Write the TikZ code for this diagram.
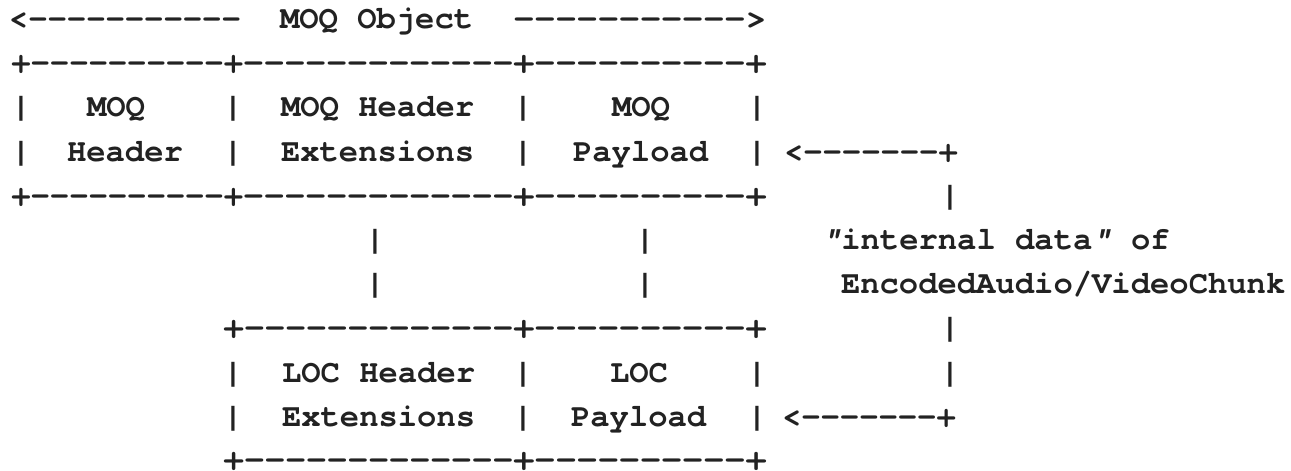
\documentclass[tikz,border=0pt]{standalone}
\usepackage{fontspec}
\setmonofont{TeX Gyre Cursor}
\definecolor{ink}{HTML}{222222}
% monospaced bold text used for the whole drawing
\newcommand\asciitext{\ttfamily\bfseries\fontsize{32.2}{36}\selectfont}
% horizontal stretch of a run of characters
\newcommand\stretchx[2]{\scalebox{#1}[1]{#2}}
% slanted double quote
\newcommand\slq{{\itshape"}}
\begin{document}
\begin{tikzpicture}[x=1pt,y=-1pt,
  tok/.style={anchor=base west,inner sep=0pt,outer sep=0pt,text=ink,font=\asciitext},
  bar/.style={anchor=base,inner sep=0pt,outer sep=0pt,text=ink,font=\asciitext}]
\fill[white] (0,0) rectangle (1291,471);
\useasboundingbox (0,0) rectangle (1291,471);

% --- span label of the whole object
\node[tok] (objL) at (9,28.5) {<-----------};
\node[tok] (objT) at (280,28.5) {MOQ Object};
\node[tok] (objR) at (513.3,28.5) {\stretchx{1.093}{----------->}};

% --- MOQ object box: top border
\node[tok] (mtA) at (11.3,72.7) {+----------+};
\node[tok] (mtB) at (243.1,72.7) {\stretchx{1.076}{-------------}};
\node[tok] (mtC) at (513.3,72.7) {\stretchx{1.093}{+----------+}};

% --- MOQ object box: first text row
\node[bar] (m2a) at (21,116.9) {|};
\node[bar] (m2b) at (233,116.9) {|};
\node[bar] (m2c) at (523,116.9) {|};
\node[bar] (m2d) at (757,116.9) {|};
\node[tok] (hdrA) at (87,116.9) {MOQ};
\node[tok] (extA) at (281,116.9) {MOQ Header};
\node[tok] (payA) at (612,116.9) {MOQ};

% --- MOQ object box: second text row
\node[bar] (m3a) at (21,161.1) {|};
\node[bar] (m3b) at (233,161.1) {|};
\node[bar] (m3c) at (523,161.1) {|};
\node[bar] (m3d) at (757,161.1) {|};
\node[tok] (hdrB) at (67,161.1) {Header};
\node[tok] (extB) at (281,161.1) {Extensions};
\node[tok] (payB) at (573,161.1) {Payload};
\node[tok] (arrU) at (784,161.1) {<-------+};

% --- MOQ object box: bottom border
\node[tok] (mbA) at (11.3,205.3) {+----------+};
\node[tok] (mbB) at (243.1,205.3) {\stretchx{1.076}{-------------}};
\node[tok] (mbC) at (513.3,205.3) {\stretchx{1.093}{+----------+}};
\node[bar] (v4) at (950,205.3) {|};

% --- links down to the LOC box and the side note
\node[bar] (l5a) at (375,249.5) {|};
\node[bar] (l5b) at (645,249.5) {|};
\node[tok] (noteA) at (822,249.5) {\slq internal data\slq{} of};
\node[bar] (l6a) at (375,293.7) {|};
\node[bar] (l6b) at (645,293.7) {|};
\node[tok] (noteB) at (841,293.7) {EncodedAudio/VideoChunk};

% --- LOC box: top border
\node[tok] (ltA) at (223.3,337.9) {\stretchx{1.072}{+-------------}};
\node[tok] (ltB) at (513.3,337.9) {\stretchx{1.093}{+----------+}};
\node[bar] (v7) at (950,337.9) {|};

% --- LOC box: first text row
\node[bar] (c8a) at (233,382.1) {|};
\node[bar] (c8b) at (523,382.1) {|};
\node[bar] (c8c) at (757,382.1) {|};
\node[bar] (v8) at (950,382.1) {|};
\node[tok] (locA) at (282,382.1) {LOC Header};
\node[tok] (locP) at (610,382.1) {LOC};

% --- LOC box: second text row
\node[bar] (c9a) at (233,426.3) {|};
\node[bar] (c9b) at (523,426.3) {|};
\node[bar] (c9c) at (757,426.3) {|};
\node[tok] (locB) at (282,426.3) {Extensions};
\node[tok] (locQ) at (571,426.3) {Payload};
\node[tok] (arrL) at (782,426.3) {<-------+};

% --- LOC box: bottom border
\node[tok] (lbA) at (223.3,469) {\stretchx{1.072}{+-------------}};
\node[tok] (lbB) at (513.3,469) {\stretchx{1.093}{+----------+}};
\end{tikzpicture}
\end{document}
